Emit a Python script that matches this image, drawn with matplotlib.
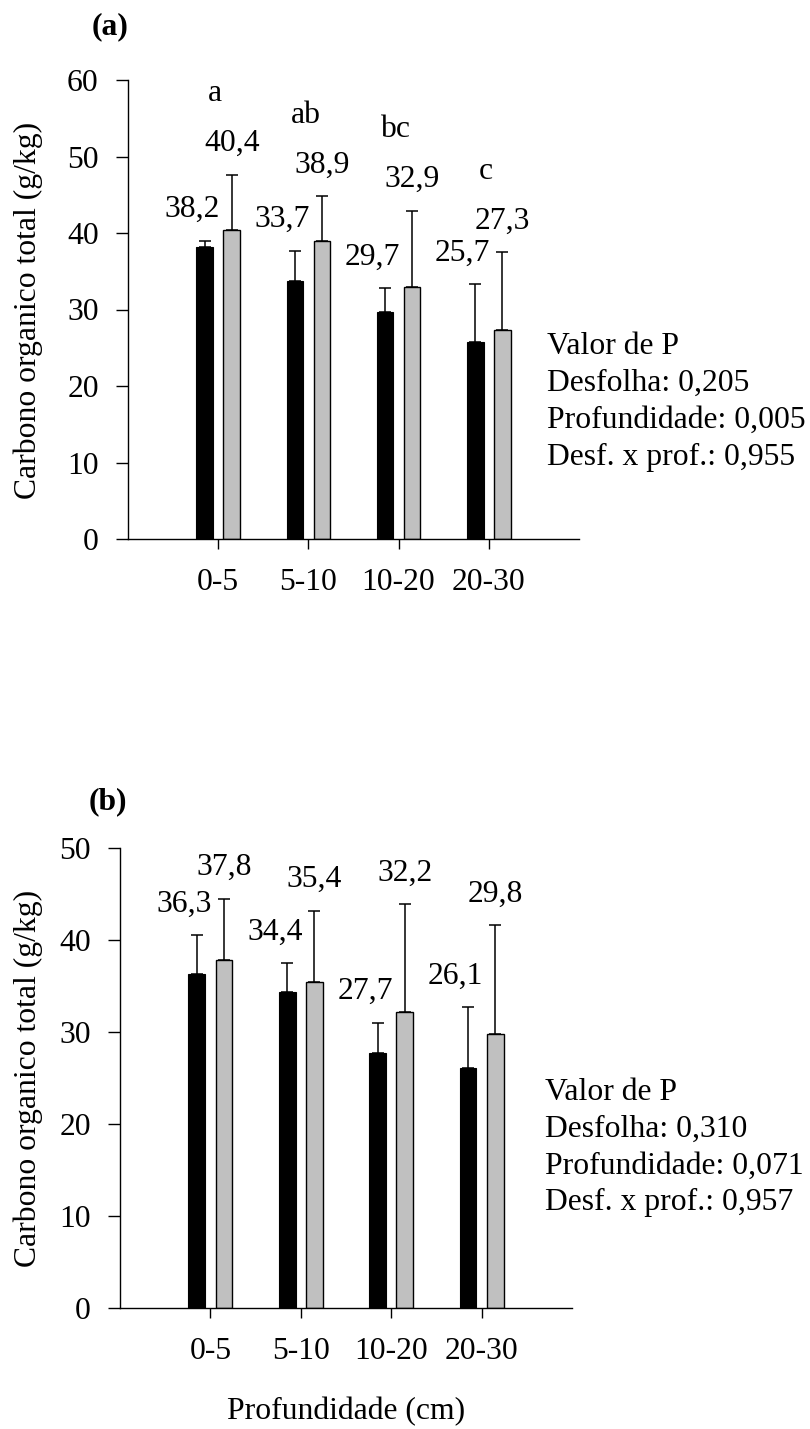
import numpy as np
import matplotlib
matplotlib.use('Agg')
import matplotlib.pyplot as plt

# ---------------------------------------------------------------
# dados
categorias = ['0-5', '5-10', '10-20', '20-30']

# painel (a)
a_preto = [38.2, 33.7, 29.7, 25.7]
a_preto_erro = [0.8, 4.0, 3.1, 7.6]
a_cinza = [40.4, 38.9, 32.9, 27.3]
a_cinza_erro = [7.2, 5.9, 10.0, 10.2]
a_letras = ['a', 'ab', 'bc', 'c']
a_pvalor = ['Valor de P', 'Desfolha: 0,205', 'Profundidade: 0,005', 'Desf. x prof.: 0,955']

# painel (b)
b_preto = [36.3, 34.4, 27.7, 26.1]
b_preto_erro = [4.2, 3.1, 3.3, 6.6]
b_cinza = [37.8, 35.4, 32.2, 29.8]
b_cinza_erro = [6.7, 7.8, 11.7, 11.8]
b_pvalor = ['Valor de P', 'Desfolha: 0,310', 'Profundidade: 0,071', 'Desf. x prof.: 0,957']

# ---------------------------------------------------------------
plt.rcParams['font.family'] = ['Liberation Serif', 'DejaVu Serif']
plt.rcParams['font.size'] = 22.8

W, H = 810, 1429
fig = plt.figure(figsize=(W / 100, H / 100), dpi=100)


def virgula(v):
    return f'{v:.1f}'.replace('.', ',')


def painel(rect, preto, preto_erro, cinza, cinza_erro, ymax, letras=None):
    ax = fig.add_axes(rect)
    x = np.arange(1, len(categorias) + 1)
    larg = 0.185
    desl = 0.15

    ax.bar(x - desl, preto, width=larg, color='black', edgecolor='black', linewidth=0.8)
    ax.bar(x + desl, cinza, width=larg, color='#c0c0c0', edgecolor='black', linewidth=1.0)

    zeros = np.zeros(len(x))
    ax.errorbar(x - desl, preto, yerr=[zeros, preto_erro], fmt='none', ecolor='black',
                elinewidth=1.1, capsize=4, capthick=1.1)
    ax.errorbar(x + desl, cinza, yerr=[zeros, cinza_erro], fmt='none', ecolor='black',
                elinewidth=1.1, capsize=4, capthick=1.1)

    # rótulos de valor
    for i in range(len(x)):
        ax.annotate(virgula(preto[i]), (x[i] - desl, preto[i] + preto_erro[i]),
                    xytext=(-9, 17), textcoords='offset points', ha='center', va='baseline')
        ax.annotate(virgula(cinza[i]), (x[i] + desl, cinza[i] + cinza_erro[i]),
                    xytext=(0, 17), textcoords='offset points', ha='center', va='baseline')
        if letras is not None:
            ax.annotate(letras[i], (x[i], cinza[i] + cinza_erro[i]),
                        xytext=(-2, 53), textcoords='offset points', ha='center', va='baseline')

    ax.set_xlim(0, 5)
    ax.set_ylim(0, ymax)
    ax.set_xticks(x)
    ax.set_xticklabels(categorias)
    ax.set_yticks(np.arange(0, ymax + 1, 10))
    ax.spines['top'].set_visible(False)
    ax.spines['right'].set_visible(False)
    ax.spines['left'].set_linewidth(1.0)
    ax.spines['bottom'].set_linewidth(1.0)
    ax.tick_params(axis='y', direction='out', length=9, width=1.0, pad=12)
    ax.tick_params(axis='x', direction='out', length=7, width=1.0, pad=14)
    return ax


# painel (a)
ax1 = painel([128 / W, 1 - 539 / H, 451 / W, 459 / H],
             a_preto, a_preto_erro, a_cinza, a_cinza_erro, 60, a_letras)
# painel (b)
ax2 = painel([120 / W, 1 - 1308 / H, 452 / W, 460 / H],
             b_preto, b_preto_erro, b_cinza, b_cinza_erro, 50)

ax2.set_xlabel('Profundidade (cm)', labelpad=22)

# títulos dos eixos y
fig.text(28 / W, 1 - 310 / H, 'Carbono organico total (g/kg)', rotation=90,
         ha='center', va='center')
fig.text(28 / W, 1 - 1078 / H, 'Carbono organico total (g/kg)', rotation=90,
         ha='center', va='center')

# letras dos painéis
fig.text(110 / W, 1 - 27 / H, '(a)', fontweight='bold', ha='center', va='center')
fig.text(108 / W, 1 - 802 / H, '(b)', fontweight='bold', ha='center', va='center')

# valores de P
for k, linha in enumerate(a_pvalor):
    fig.text(547 / W, 1 - (354 + 37.0 * k) / H, linha, ha='left', va='baseline')
for k, linha in enumerate(b_pvalor):
    fig.text(545 / W, 1 - (1100 + 36.7 * k) / H, linha, ha='left', va='baseline')

fig.savefig('out.png', dpi=100)
